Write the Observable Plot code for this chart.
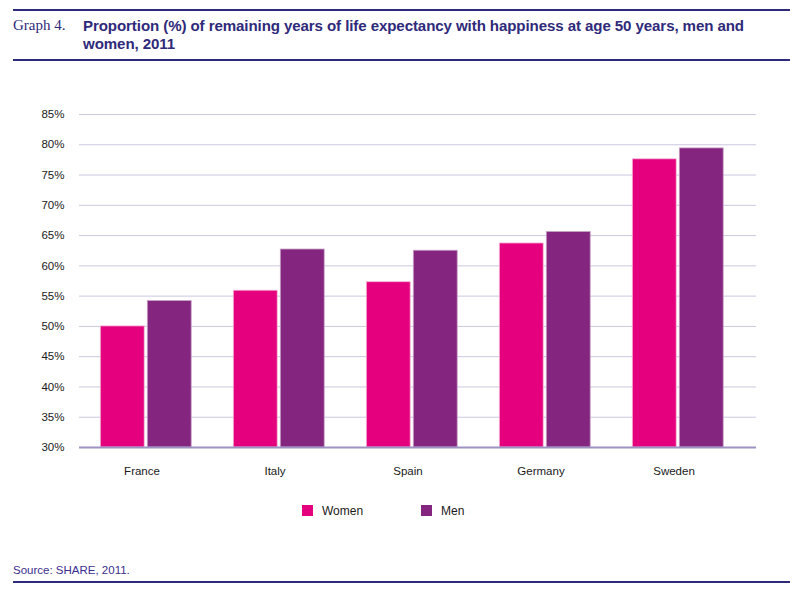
<!DOCTYPE html>
<html>
<head>
<meta charset="utf-8">
<script src="https://cdn.jsdelivr.net/npm/d3@7"></script>
<script src="https://cdn.jsdelivr.net/npm/@observablehq/plot@0.6"></script>
<style>
  html, body { margin: 0; padding: 0; background: #fff; }
  #page { position: relative; width: 800px; height: 591px; overflow: hidden; font-family: "Liberation Sans", Arial, sans-serif; }
  .rule { position: absolute; left: 13px; width: 777px; height: 2px; background: #2f2a7a; }
  #graphno { position: absolute; left: 13px; top: 17px; font-family: "Liberation Serif", "DejaVu Serif", serif; font-size: 15px; color: #2f2a7a; }
  #title { position: absolute; left: 83px; top: 17px; width: 690px; font-weight: bold; font-size: 15.1px; line-height: 18px; color: #2f2a7a; letter-spacing: -0.1px; }
  #chart { position: absolute; left: 0; top: 80px; }
  #legend { position: absolute; top: 503px; left: 0; width: 800px; height: 16px; font-size: 12px; color: #1a1a1a; }
  .sw { position: absolute; top: 2px; width: 11px; height: 11px; }
  .lt { position: absolute; top: 0px; line-height: 16px; }
  #source { position: absolute; left: 13px; top: 564px; font-size: 11.5px; color: #3b2e8c; }
</style>
</head>
<body>
<div id="page">
  <div class="rule" style="top:8.5px"></div>
  <div id="graphno">Graph 4.</div>
  <div id="title">Proportion (%) of remaining years of life expectancy with happiness at age 50 years, men and women, 2011</div>
  <div class="rule" style="top:59px"></div>
  <div id="chart"></div>
  <div id="legend"></div>
  <div id="source">Source: SHARE, 2011.</div>
  <div class="rule" style="top:580.5px"></div>
</div>
<script>
const countries = ["France", "Italy", "Spain", "Germany", "Sweden"];
const women = [50.0, 55.9, 57.3, 63.7, 77.6];
const men = [54.2, 62.7, 62.5, 65.6, 79.4];
const yTicks = [30, 35, 40, 45, 50, 55, 60, 65, 70, 75, 80, 85];
const series = ["Women", "Men"];
const colors = ["#E5007E", "#84267F"];

const womenData = countries.map((c, i) => ({country: c, value: women[i]}));
const menData = countries.map((c, i) => ({country: c, value: men[i]}));

const chart = Plot.plot({
  width: 800,
  height: 410,
  marginLeft: 79,
  marginRight: 44,
  marginTop: 34,
  marginBottom: 43,
  style: {fontFamily: "'Liberation Sans', Arial, sans-serif", fontSize: "11px", color: "#1a1a1a", background: "transparent"},
  x: {domain: countries, range: [77, 745], padding: 0, label: null},
  y: {domain: [30, 85], label: null},
  marks: [
    Plot.ruleY(yTicks.slice(1), {stroke: "#cdc7e0", strokeWidth: 1}),
    Plot.barY(womenData, {x: "country", y1: 30, y2: "value", fill: colors[0], stroke: "#f5b8d8", strokeWidth: 0.8, insetLeft: 21.3, insetRight: 67.8}),
    Plot.barY(menData, {x: "country", y1: 30, y2: "value", fill: colors[1], stroke: "#c9a2c6", strokeWidth: 0.8, insetLeft: 68.3, insetRight: 20.8}),
    Plot.ruleY([30], {stroke: "#9d92c3", strokeWidth: 2}),
    Plot.axisY(yTicks, {tickFormat: d => d + "%", tickSize: 0, tickPadding: 15, label: null, fontSize: 11.5}),
    Plot.axisX({tickSize: 0, tickPadding: 19, dx: -4, label: null, fontSize: 11.5})
  ]
});
document.getElementById("chart").appendChild(chart);

// legend
const legend = document.getElementById("legend");
const swX = [302, 421];
series.forEach((s, i) => {
  const sw = document.createElement("div");
  sw.className = "sw";
  sw.style.left = swX[i] + "px";
  sw.style.background = colors[i];
  legend.appendChild(sw);
  const t = document.createElement("div");
  t.className = "lt";
  t.style.left = (swX[i] + 20) + "px";
  t.textContent = s;
  legend.appendChild(t);
});
</script>
</body>
</html>
